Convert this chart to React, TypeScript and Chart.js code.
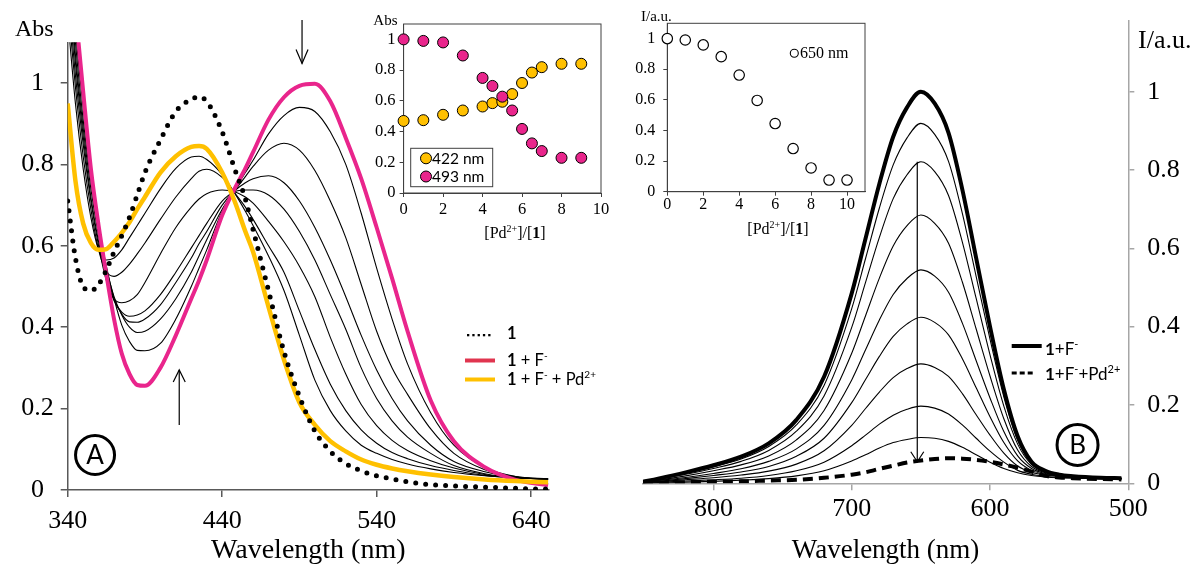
import React, { useEffect, useRef } from 'react';
import { Chart, registerables } from 'chart.js';
Chart.register(...registerables);

const SERIF = "'Liberation Serif', 'Times New Roman', serif";
const SANS = "Lato, 'Liberation Sans', sans-serif";

// ---------- Panel A (absorption) ----------
const wlA = [340, 345, 350, 355, 360, 365, 370, 375, 380, 385, 390, 400, 410, 420, 425, 430, 440, 448, 455, 460, 470, 480, 490, 500, 510, 520, 530, 540, 550, 560, 575, 590, 610, 630, 651];
const absFree = [0.71, 0.57, 0.50, 0.49, 0.505, 0.54, 0.585, 0.625, 0.67, 0.725, 0.78, 0.86, 0.93, 0.96, 0.966, 0.955, 0.88, 0.79, 0.715, 0.64, 0.49, 0.34, 0.23, 0.145, 0.095, 0.065, 0.047, 0.035, 0.027, 0.02, 0.013, 0.01, 0.007, 0.004, 0.002];
const absF = [1.38, 1.18, 0.98, 0.79, 0.65, 0.53, 0.42, 0.335, 0.285, 0.258, 0.256, 0.30, 0.38, 0.47, 0.515, 0.565, 0.675, 0.74, 0.79, 0.83, 0.91, 0.965, 0.993, 0.998, 0.955, 0.865, 0.765, 0.645, 0.52, 0.39, 0.22, 0.12, 0.056, 0.025, 0.012];
const absFPd = [0.95, 0.76, 0.655, 0.607, 0.59, 0.592, 0.61, 0.632, 0.658, 0.69, 0.72, 0.78, 0.82, 0.843, 0.845, 0.838, 0.78, 0.71, 0.635, 0.585, 0.45, 0.32, 0.215, 0.16, 0.12, 0.095, 0.075, 0.062, 0.053, 0.046, 0.038, 0.032, 0.026, 0.022, 0.019];
const absT1 = [1.36, 1.13, 0.94, 0.78, 0.65, 0.55, 0.47, 0.405, 0.365, 0.343, 0.342, 0.36, 0.42, 0.50, 0.545, 0.59, 0.685, 0.737, 0.78, 0.81, 0.875, 0.92, 0.94, 0.93, 0.88, 0.80, 0.68, 0.545, 0.42, 0.31, 0.19, 0.11, 0.055, 0.033, 0.025];
const absT2 = [1.33, 1.1, 0.91, 0.76, 0.64, 0.545, 0.475, 0.43, 0.4, 0.387, 0.39, 0.42, 0.47, 0.535, 0.575, 0.615, 0.69, 0.735, 0.77, 0.795, 0.835, 0.852, 0.835, 0.785, 0.71, 0.62, 0.505, 0.39, 0.3, 0.235, 0.15, 0.09, 0.05, 0.033, 0.027];
const absT3 = [1.3, 1.07, 0.89, 0.74, 0.625, 0.535, 0.47, 0.432, 0.413, 0.412, 0.42, 0.455, 0.51, 0.57, 0.605, 0.635, 0.70, 0.735, 0.755, 0.765, 0.772, 0.755, 0.71, 0.645, 0.565, 0.475, 0.38, 0.295, 0.225, 0.17, 0.11, 0.07, 0.045, 0.032, 0.027];
const absT4 = [1.27, 1.05, 0.87, 0.72, 0.61, 0.525, 0.465, 0.437, 0.427, 0.43, 0.44, 0.48, 0.535, 0.595, 0.625, 0.655, 0.71, 0.733, 0.737, 0.737, 0.725, 0.69, 0.635, 0.565, 0.48, 0.395, 0.3, 0.225, 0.17, 0.13, 0.09, 0.06, 0.04, 0.03, 0.027];
const absT5 = [1.24, 1.02, 0.85, 0.71, 0.6, 0.515, 0.47, 0.46, 0.465, 0.48, 0.51, 0.58, 0.645, 0.695, 0.715, 0.728, 0.737, 0.733, 0.72, 0.705, 0.66, 0.61, 0.55, 0.475, 0.375, 0.285, 0.21, 0.158, 0.122, 0.097, 0.072, 0.054, 0.038, 0.03, 0.027];
const absT6 = [1.2, 0.99, 0.82, 0.69, 0.59, 0.537, 0.525, 0.535, 0.555, 0.58, 0.607, 0.665, 0.72, 0.765, 0.783, 0.788, 0.768, 0.73, 0.695, 0.665, 0.60, 0.535, 0.44, 0.345, 0.26, 0.195, 0.148, 0.115, 0.092, 0.077, 0.06, 0.048, 0.036, 0.03, 0.027];
const absT7 = [1.16, 0.95, 0.79, 0.67, 0.59, 0.565, 0.57, 0.59, 0.62, 0.65, 0.68, 0.74, 0.79, 0.818, 0.82, 0.812, 0.775, 0.73, 0.685, 0.65, 0.575, 0.49, 0.38, 0.27, 0.195, 0.145, 0.11, 0.09, 0.075, 0.064, 0.052, 0.043, 0.035, 0.03, 0.027];
const xTicksA = [340, 440, 540, 640];

// ---------- Panel B (emission) ----------
const wlB = [851, 840, 820, 800, 780, 760, 740, 720, 700, 690, 680, 670, 660, 650, 640, 630, 620, 610, 600, 590, 580, 570, 560, 550, 540, 520, 505];
const emF = [0.004, 0.012, 0.028, 0.046, 0.068, 0.102, 0.162, 0.272, 0.485, 0.625, 0.765, 0.885, 0.96, 1.0, 0.97, 0.895, 0.75, 0.575, 0.4, 0.24, 0.12, 0.055, 0.032, 0.022, 0.018, 0.014, 0.013];
const emT1 = [0.004, 0.011, 0.026, 0.042, 0.062, 0.094, 0.149, 0.25, 0.446, 0.574, 0.703, 0.813, 0.882, 0.919, 0.891, 0.822, 0.689, 0.528, 0.368, 0.221, 0.11, 0.052, 0.03, 0.021, 0.017, 0.014, 0.013];
const emT2 = [0.003, 0.01, 0.023, 0.038, 0.056, 0.084, 0.133, 0.223, 0.398, 0.513, 0.628, 0.727, 0.788, 0.821, 0.796, 0.735, 0.616, 0.472, 0.328, 0.197, 0.1, 0.048, 0.029, 0.02, 0.017, 0.014, 0.013];
const emT3 = [0.003, 0.008, 0.019, 0.032, 0.047, 0.07, 0.111, 0.186, 0.332, 0.428, 0.524, 0.606, 0.658, 0.685, 0.664, 0.613, 0.514, 0.394, 0.274, 0.165, 0.085, 0.043, 0.027, 0.02, 0.016, 0.014, 0.013];
const emT4 = [0.002, 0.007, 0.015, 0.025, 0.037, 0.056, 0.088, 0.148, 0.264, 0.341, 0.417, 0.482, 0.523, 0.545, 0.529, 0.488, 0.409, 0.313, 0.218, 0.132, 0.07, 0.038, 0.025, 0.019, 0.016, 0.014, 0.013];
const emT5 = [0.002, 0.005, 0.012, 0.02, 0.029, 0.043, 0.069, 0.115, 0.206, 0.265, 0.324, 0.375, 0.407, 0.424, 0.411, 0.379, 0.318, 0.244, 0.17, 0.104, 0.057, 0.033, 0.023, 0.018, 0.015, 0.013, 0.012];
const emT6 = [0.001, 0.004, 0.009, 0.014, 0.021, 0.031, 0.049, 0.083, 0.148, 0.191, 0.233, 0.27, 0.293, 0.305, 0.296, 0.273, 0.229, 0.175, 0.123, 0.077, 0.044, 0.028, 0.021, 0.017, 0.015, 0.013, 0.012];
const emT7 = [0.001, 0.002, 0.006, 0.009, 0.013, 0.02, 0.032, 0.054, 0.096, 0.123, 0.151, 0.174, 0.189, 0.197, 0.192, 0.177, 0.149, 0.115, 0.082, 0.054, 0.033, 0.023, 0.018, 0.015, 0.014, 0.012, 0.011];
const emT8 = [0.001, 0.001, 0.003, 0.005, 0.008, 0.012, 0.019, 0.032, 0.057, 0.073, 0.09, 0.104, 0.112, 0.117, 0.115, 0.107, 0.092, 0.073, 0.054, 0.038, 0.027, 0.02, 0.016, 0.014, 0.013, 0.012, 0.011];
const emFPd = [0.002, 0.002, 0.003, 0.004, 0.005, 0.007, 0.009, 0.014, 0.022, 0.028, 0.037, 0.045, 0.053, 0.058, 0.062, 0.064, 0.063, 0.06, 0.055, 0.048, 0.04, 0.03, 0.019, 0.015, 0.013, 0.011, 0.01];
const xTicksB = [500, 600, 700, 800];

// ---------- Insets ----------
const ratioA = [0, 1, 2, 3, 4, 4.5, 5, 5.5, 6, 6.5, 7, 8, 9];
const abs422 = [0.469, 0.474, 0.509, 0.537, 0.563, 0.585, 0.594, 0.644, 0.716, 0.784, 0.819, 0.841, 0.841];
const abs493 = [1.0, 0.99, 0.98, 0.895, 0.749, 0.697, 0.627, 0.537, 0.417, 0.323, 0.273, 0.229, 0.229];
const ratioB = [0, 1, 2, 3, 4, 5, 6, 7, 8, 9, 10];
const int650 = [1.0, 0.991, 0.959, 0.882, 0.762, 0.596, 0.445, 0.282, 0.155, 0.076, 0.076];
const yTicks = [0, 0.2, 0.4, 0.6, 0.8, 1];
const insetXTicks = [0, 2, 4, 6, 8, 10];

const PINK = '#E9258C';
const ORANGE = '#FFC000';

const pts = (xs: number[], ys: number[]) => xs.map((x, i) => ({ x, y: ys[i] }));
const fmt = (v: number) => String(Math.round(v * 10) / 10);

type Seg = { t: string; b?: boolean; sup?: boolean };
function segFont(s: Seg, size: number, fam: string) {
  return `${s.b ? 'bold ' : ''}${s.sup ? Math.round(size * 0.62) : size}px ${fam}`;
}
function drawRich(ctx: CanvasRenderingContext2D, segs: Seg[], x: number, y: number, size: number, fam: string, align: 'left' | 'center' = 'left') {
  ctx.save();
  ctx.textBaseline = 'alphabetic';
  ctx.textAlign = 'left';
  ctx.fillStyle = '#000';
  let w = 0;
  for (const s of segs) { ctx.font = segFont(s, size, fam); w += ctx.measureText(s.t).width; }
  let cx = align === 'center' ? x - w / 2 : x;
  for (const s of segs) {
    ctx.font = segFont(s, size, fam);
    ctx.fillText(s.t, cx, s.sup ? y - size * 0.4 : y);
    cx += ctx.measureText(s.t).width;
  }
  ctx.restore();
}
function vArrow(ctx: CanvasRenderingContext2D, x: number, y1: number, y2: number, hw: number, hh: number) {
  ctx.save();
  ctx.strokeStyle = '#000';
  ctx.lineWidth = 1.2;
  ctx.beginPath(); ctx.moveTo(x, y1); ctx.lineTo(x, y2); ctx.stroke();
  const d = Math.sign(y2 - y1);
  ctx.beginPath(); ctx.moveTo(x - hw / 2, y2 - d * hh); ctx.lineTo(x, y2); ctx.lineTo(x + hw / 2, y2 - d * hh); ctx.stroke();
  ctx.restore();
}
function circleLabel(ctx: CanvasRenderingContext2D, x: number, y: number, r: number, t: string) {
  ctx.save();
  ctx.strokeStyle = '#000'; ctx.lineWidth = 3;
  ctx.beginPath(); ctx.arc(x, y, r, 0, Math.PI * 2); ctx.stroke();
  ctx.fillStyle = '#000'; ctx.font = `26px ${SANS}`; ctx.textAlign = 'center'; ctx.textBaseline = 'middle';
  ctx.fillText(t, x, y + 1);
  ctx.restore();
}

const lineDs = (label: string, xs: number[], ys: number[], color: string, width: number, extra: any = {}) => ({
  label, data: pts(xs, ys), borderColor: color, backgroundColor: color, borderWidth: width,
  pointRadius: 0, cubicInterpolationMode: 'monotone', fill: false, ...extra,
});

function axis(o: any) {
  const { ticksArr, size, pad, tl, color, bw, fam, extraTicks, fitSize, ...rest } = o;
  return {
    type: 'linear',
    afterBuildTicks: (s: any) => { s.ticks = ticksArr.map((v: number) => ({ value: v })); },
    afterFit: (s: any) => {
      if (s.isHorizontal()) s.height = fitSize; else s.width = fitSize;
      s.paddingTop = 0; s.paddingBottom = 0; s.paddingLeft = 0; s.paddingRight = 0;
    },
    ticks: { font: { family: fam || SERIF, size }, color: '#000', padding: pad, maxRotation: 0, autoSkip: false, callback: (v: any) => fmt(Number(v)), ...(extraTicks || {}) },
    grid: { drawOnChartArea: false, drawTicks: true, tickLength: tl, color, lineWidth: bw },
    border: { display: true, color, width: bw },
    ...rest,
  };
}

const baseOpts = {
  animation: false, responsive: false, devicePixelRatio: 1,
  events: [],
  plugins: { legend: { display: false }, tooltip: { enabled: false } },
};

function cfgMainA(): any {
  const thin = [absT1, absT2, absT3, absT4, absT5, absT6, absT7];
  return {
    type: 'line',
    data: {
      datasets: [
        lineDs('1', wlA, absFree, '#000', 5, { borderDash: [0, 10], borderCapStyle: 'round' }),
        lineDs('1 + F- + Pd2+', wlA, absFPd, ORANGE, 4.5),
        lineDs('1 + F-', wlA, absF, PINK, 4),
        ...thin.map((t, i) => lineDs('titration ' + (i + 1), wlA, t, '#000', 1.1)),
      ],
    },
    options: {
      ...baseOpts,
      layout: { padding: { left: 0, right: 51.1, top: 42.3, bottom: 0 } },
      scales: {
        x: axis({ ticksArr: xTicksA, size: 26, pad: 9, tl: 7, color: '#595959', bw: 1.5, min: 340, max: 651.5, fitSize: 75 }),
        y: axis({ ticksArr: yTicks, size: 26, pad: 7, tl: 7, color: '#595959', bw: 1.5, min: 0, max: 1.1, extraTicks: { crossAlign: 'center' }, fitSize: 67.7 }),
      },
    },
    plugins: [{
      id: 'decoA',
      afterDraw(chart: any) {
        const ctx = chart.ctx; const xs = chart.scales.x; const ys = chart.scales.y; const ca = chart.chartArea;
        ctx.save();
        ctx.fillStyle = '#000'; ctx.textBaseline = 'alphabetic'; ctx.textAlign = 'left';
        ctx.font = `24px ${SERIF}`; ctx.fillText('Abs', 15, 36);
        ctx.textAlign = 'center'; ctx.font = `28px ${SERIF}`;
        ctx.fillText('Wavelength (nm)', (ca.left + ca.right) / 2, 558);
        ctx.restore();
        vArrow(ctx, xs.getPixelForValue(491.7), ys.getPixelForValue(1.155), ys.getPixelForValue(1.048), 12, 14);
        vArrow(ctx, xs.getPixelForValue(412.2), ys.getPixelForValue(0.16), ys.getPixelForValue(0.295), 12, 12);
        circleLabel(ctx, xs.getPixelForValue(357.7), ys.getPixelForValue(0.086), 19.5, 'A');
        // legend
        ctx.save();
        ctx.fillStyle = '#000';
        for (let i = 0; i < 5; i++) ctx.fillRect(467 + i * 5.3, 334, 2.3, 2.3);
        ctx.lineWidth = 4;
        ctx.strokeStyle = '#E0354F'; ctx.beginPath(); ctx.moveTo(465, 360.5); ctx.lineTo(495, 360.5); ctx.stroke();
        ctx.strokeStyle = ORANGE; ctx.beginPath(); ctx.moveTo(465, 379.5); ctx.lineTo(495, 379.5); ctx.stroke();
        ctx.restore();
        drawRich(ctx, [{ t: '1', b: true }], 507, 339, 16.5, SANS);
        drawRich(ctx, [{ t: '1', b: true }, { t: ' + F' }, { t: '-', sup: true }], 507, 366, 16.5, SANS);
        drawRich(ctx, [{ t: '1', b: true }, { t: ' + F' }, { t: '-', sup: true }, { t: ' + Pd' }, { t: '2+', sup: true }], 507, 385, 16.5, SANS);
      },
    }],
  };
}

function cfgMainB(): any {
  const thin = [emT1, emT2, emT3, emT4, emT5, emT6, emT7, emT8];
  return {
    type: 'line',
    data: {
      datasets: [
        lineDs('1+F-', wlB, emF, '#000', 4),
        lineDs('1+F-+Pd2+', wlB, emFPd, '#000', 4, { borderDash: [10, 6] }),
        ...thin.map((t, i) => lineDs('titration ' + (i + 1), wlB, t, '#000', 1.1)),
      ],
    },
    options: {
      ...baseOpts,
      layout: { padding: { left: 42.9, right: 0, top: 21.2, bottom: 0 } },
      scales: {
        x: axis({ ticksArr: xTicksB, size: 26, pad: 3, tl: 7, color: '#a6a6a6', bw: 1.5, min: 500, max: 851, reverse: true, fitSize: 81.7 }),
        y: axis({ ticksArr: yTicks, size: 26, pad: 13, tl: 6, color: '#a6a6a6', bw: 1.5, min: 0, max: 1.18, position: 'right', fitSize: 66.7 }),
      },
    },
    plugins: [{
      id: 'decoB',
      afterDraw(chart: any) {
        const ctx = chart.ctx; const xs = chart.scales.x; const ys = chart.scales.y; const ca = chart.chartArea;
        ctx.save();
        ctx.fillStyle = '#000'; ctx.textBaseline = 'alphabetic'; ctx.textAlign = 'left';
        ctx.font = `26px ${SERIF}`; ctx.fillText('I/a.u.', 538, 48);
        ctx.textAlign = 'center'; ctx.font = `27px ${SERIF}`;
        ctx.fillText('Wavelength (nm)', (ca.left + ca.right) / 2, 558);
        ctx.restore();
        vArrow(ctx, xs.getPixelForValue(652.6), ys.getPixelForValue(0.821), ys.getPixelForValue(0.055), 13, 10);
        circleLabel(ctx, xs.getPixelForValue(536.7), ys.getPixelForValue(0.098), 20.5, 'B');
        ctx.save();
        ctx.strokeStyle = '#000'; ctx.lineWidth = 4;
        ctx.beginPath(); ctx.moveTo(411.7, 346); ctx.lineTo(441.7, 346); ctx.stroke();
        ctx.lineWidth = 3; ctx.setLineDash([5, 3]);
        ctx.beginPath(); ctx.moveTo(411.7, 373); ctx.lineTo(433, 373); ctx.stroke();
        ctx.restore();
        drawRich(ctx, [{ t: '1', b: true }, { t: '+F' }, { t: '-', sup: true }], 445, 355, 17, SANS);
        drawRich(ctx, [{ t: '1', b: true }, { t: '+F' }, { t: '-', sup: true }, { t: '+Pd' }, { t: '2+', sup: true }], 445, 380, 17, SANS);
      },
    }],
  };
}

const insetTitle: Seg[] = [{ t: '[Pd' }, { t: '2+', sup: true }, { t: ']/[' }, { t: '1', b: true }, { t: ']' }];

function cfgInsetA(): any {
  const ptDs = (label: string, ys: number[], color: string) => ({
    label, data: pts(ratioA, ys), showLine: false, pointRadius: 5.5, pointBorderWidth: 1,
    pointBorderColor: '#000', pointBackgroundColor: color, borderColor: '#000', backgroundColor: color, clip: false,
  });
  return {
    type: 'scatter',
    data: { datasets: [ptDs('493 nm', abs493, PINK), ptDs('422 nm', abs422, ORANGE)] },
    options: {
      ...baseOpts,
      layout: { padding: { left: 0, right: 14, top: 14, bottom: 0 } },
      scales: {
        x: axis({ ticksArr: insetXTicks, size: 16.5, pad: 3, tl: 4, color: '#404040', bw: 1, min: 0, max: 10, fitSize: 52 }),
        y: axis({ ticksArr: yTicks, size: 16.5, pad: 4, tl: 4, color: '#404040', bw: 1, min: 0, max: 1.1, fitSize: 48.6 }),
      },
    },
    plugins: [{
      id: 'boxA',
      beforeDatasetsDraw(chart: any) {
        const ctx = chart.ctx; const ca = chart.chartArea;
        ctx.save(); ctx.strokeStyle = '#404040'; ctx.lineWidth = 1;
        ctx.strokeRect(ca.left, ca.top, ca.right - ca.left, ca.bottom - ca.top);
        ctx.restore();
      },
      afterDraw(chart: any) {
        const ctx = chart.ctx;
        ctx.save();
        ctx.fillStyle = '#000'; ctx.font = `15px ${SERIF}`; ctx.textBaseline = 'alphabetic'; ctx.textAlign = 'left';
        ctx.fillText('Abs', 18.3, 15);
        ctx.fillStyle = '#fff'; ctx.fillRect(55.7, 138.3, 82, 38.4);
        ctx.strokeStyle = '#404040'; ctx.lineWidth = 1; ctx.strokeRect(55.7, 138.3, 82, 38.4);
        const rows: [string, string, number][] = [['422 nm', ORANGE, 148.3], ['493 nm', PINK, 166.5]];
        for (const [lab, col, y] of rows) {
          ctx.beginPath(); ctx.arc(71, y, 5.5, 0, Math.PI * 2);
          ctx.fillStyle = col; ctx.fill(); ctx.strokeStyle = '#000'; ctx.stroke();
          ctx.fillStyle = '#000'; ctx.font = `15.5px ${SANS}`; ctx.textBaseline = 'middle';
          ctx.fillText(lab, 77, y + 0.5);
        }
        ctx.restore();
        drawRich(ctx, insetTitle, 160, 228, 16, SERIF, 'center');
      },
    }],
  };
}

function cfgInsetB(): any {
  return {
    type: 'scatter',
    data: {
      datasets: [{
        label: '650 nm', data: pts(ratioB, int650), showLine: false, pointRadius: 5.2, pointBorderWidth: 1.2,
        pointBorderColor: '#000', pointBackgroundColor: '#fff', borderColor: '#000', backgroundColor: '#fff', clip: false,
      }],
    },
    options: {
      ...baseOpts,
      layout: { padding: { left: 0, right: 15, top: 13.3, bottom: 0 } },
      scales: {
        x: axis({ ticksArr: insetXTicks, size: 16, pad: -1, tl: 4, color: '#404040', bw: 1, min: 0, max: 11, fitSize: 53.3 }),
        y: axis({ ticksArr: yTicks, size: 16, pad: 8, tl: 4, color: '#404040', bw: 1, min: 0, max: 1.1, fitSize: 52.3 }),
      },
    },
    plugins: [{
      id: 'boxB',
      beforeDatasetsDraw(chart: any) {
        const ctx = chart.ctx; const ca = chart.chartArea;
        ctx.save(); ctx.strokeStyle = '#404040'; ctx.lineWidth = 1;
        ctx.strokeRect(ca.left, ca.top, ca.right - ca.left, ca.bottom - ca.top);
        ctx.restore();
      },
      afterDraw(chart: any) {
        const ctx = chart.ctx;
        ctx.save();
        ctx.fillStyle = '#000'; ctx.font = `15px ${SERIF}`; ctx.textBaseline = 'alphabetic'; ctx.textAlign = 'left';
        ctx.fillText('I/a.u.', 26, 11);
        ctx.beginPath(); ctx.arc(179.3, 43.3, 4, 0, Math.PI * 2);
        ctx.fillStyle = '#fff'; ctx.fill(); ctx.strokeStyle = '#000'; ctx.lineWidth = 1.1; ctx.stroke();
        ctx.fillStyle = '#000'; ctx.font = `16px ${SERIF}`; ctx.textBaseline = 'middle';
        ctx.fillText('650 nm', 185, 44);
        ctx.restore();
        drawRich(ctx, insetTitle, 163, 224, 16, SERIF, 'center');
      },
    }],
  };
}

export default function App() {
  const refA = useRef<HTMLCanvasElement>(null);
  const refB = useRef<HTMLCanvasElement>(null);
  const refIA = useRef<HTMLCanvasElement>(null);
  const refIB = useRef<HTMLCanvasElement>(null);
  useEffect(() => {
    const charts = [
      new Chart(refA.current!, cfgMainA()),
      new Chart(refB.current!, cfgMainB()),
      new Chart(refIA.current!, cfgInsetA()),
      new Chart(refIB.current!, cfgInsetB()),
    ];
    return () => charts.forEach((c) => c.destroy());
  }, []);
  const abs = (l: number, t: number, w: number, h: number): React.CSSProperties => ({ position: 'absolute', left: l, top: t, width: w, height: h });
  return (
    <div style={{ position: 'fixed', left: 0, top: 0, width: 1195, height: 565, background: '#fff', overflow: 'hidden' }}>
      <canvas ref={refA} width={600} height={565} style={abs(0, 0, 600, 565)} />
      <canvas ref={refB} width={595} height={565} style={abs(600, 0, 595, 565)} />
      <canvas ref={refIA} width={260} height={235} style={abs(355, 10, 260, 235)} />
      <canvas ref={refIB} width={265} height={235} style={abs(615, 10, 265, 235)} />
    </div>
  );
}
